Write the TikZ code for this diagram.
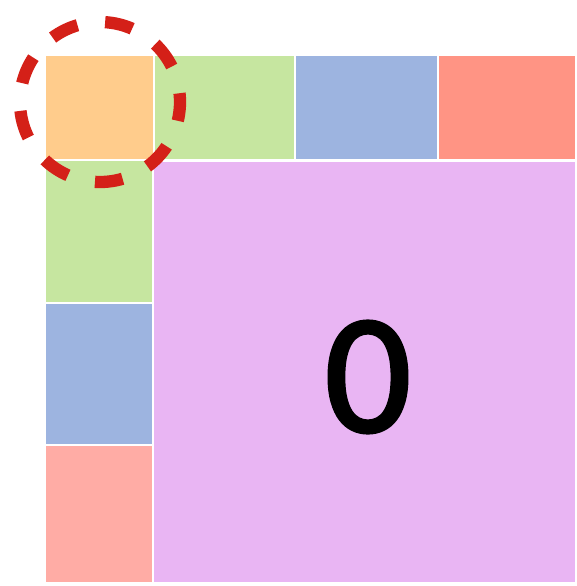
\documentclass[tikz,border=0pt]{standalone}
\usepackage{fontspec}
\setmainfont{Carlito}
\newfontfamily\zerofont{Carlito}[FakeBold=2]
\definecolor{cornerorange}{HTML}{FFCC8C}
\definecolor{cellgreen}{HTML}{C6E6A0}
\definecolor{cellblue}{HTML}{9DB4E0}
\definecolor{cellred}{HTML}{FF9484}
\definecolor{cellpink}{HTML}{FFACA5}
\definecolor{bigpurple}{HTML}{E9B5F3}
\definecolor{ringred}{HTML}{D42018}
\begin{document}
\begin{tikzpicture}[x=0.02cm,y=-0.02cm,line join=round]
\useasboundingbox (0,0) rectangle (576,586);
\tikzset{cell/.style={draw=white,line width=0.8pt}}
% top row
\foreach \xa/\xb/\c in {45/154/cornerorange,154/295/cellgreen,295/438/cellblue,438/576/cellred}
\filldraw[cell,fill=\c] (\xa,55) rectangle (\xb,160);
% left column
\foreach \ya/\yb/\c in {160/303/cellgreen,303/445/cellblue,445/583/cellpink}
\filldraw[cell,fill=\c] (45,\ya) rectangle (153,\yb);
% the rest
\filldraw[cell,fill=bigpurple] (153,161) rectangle (576,583);
\node[font=\fontsize{97}{97}\zerofont] (zero) at (368,377) {0};
\draw[ringred,line width=7pt,dash pattern=on 15.9pt off 15.9pt,dash phase=5.1pt] (100,102) circle (80);
\end{tikzpicture}
\end{document}
